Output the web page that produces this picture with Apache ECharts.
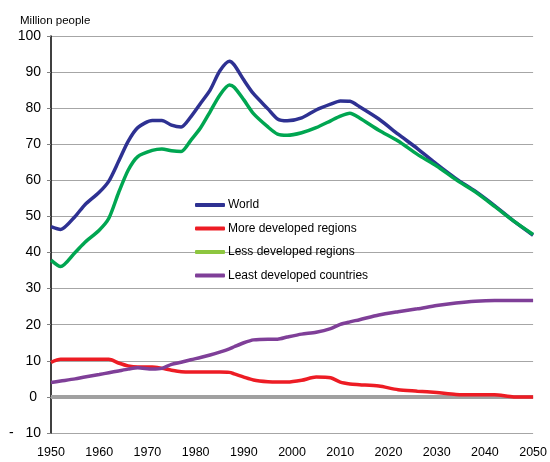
<!DOCTYPE html>
<html>
<head>
<meta charset="utf-8">
<script src="https://cdn.jsdelivr.net/npm/echarts@6/dist/echarts.min.js"></script>
<style>
  html, body { margin: 0; padding: 0; background: #fff; }
  #chart { width: 550px; height: 462px; }
</style>
</head>
<body>
<div id="chart"></div>
<script>
// years shared by all four series
var years = [1950, 1952, 1955, 1957, 1960, 1962, 1964, 1966, 1968, 1971, 1973, 1975, 1977, 1979,
  1981, 1983, 1985, 1987, 1988, 1990, 1992, 1995, 1997, 1999, 2002, 2005, 2008, 2010, 2012, 2014,
  2018, 2022, 2026, 2030, 2034, 2038, 2042, 2046, 2050];

var world = [47.2, 46.4, 50, 53.2, 56.7, 59.8, 65.2, 70.8, 74.6, 76.6, 76.6, 75.3, 74.8, 77.6,
  81.3, 85, 90.3, 93, 92, 87.8, 84, 79.8, 77, 76.5, 77.3, 79.5, 81.1, 82, 81.9, 80.4,
  77, 72.8, 68.8, 64.5, 60.5, 57, 53, 48.7, 44.8];

var moreDeveloped = [9.6, 10.4, 10.4, 10.4, 10.4, 10.4, 9.4, 8.6, 8.3, 8.3, 7.9, 7.4, 7, 6.9,
  6.9, 6.9, 6.9, 6.8, 6.4, 5.5, 4.7, 4.2, 4.1, 4.1, 4.6, 5.5, 5.3, 4.1, 3.6, 3.4,
  3, 2, 1.6, 1.2, 0.7, 0.6, 0.6, 0, 0];

var lessDeveloped = [37.9, 36.1, 40, 42.8, 46.2, 49.5, 56.5, 62.8, 66.6, 68.3, 68.7, 68.2, 68, 71.1,
  74.5, 79, 83.6, 86.4, 85.8, 82.3, 78.5, 74.8, 72.8, 72.5, 73.2, 74.6, 76.5, 77.8, 78.6, 77.3,
  73.9, 70.9, 67.2, 64, 60.2, 56.8, 52.8, 48.7, 45];

var leastDeveloped = [4, 4.4, 5, 5.5, 6.2, 6.7, 7.2, 7.7, 8.1, 7.7, 7.9, 9, 9.6, 10.3,
  10.9, 11.6, 12.4, 13.3, 13.9, 15, 15.8, 16, 16, 16.6, 17.4, 17.9, 18.9, 20.1, 20.8, 21.4,
  22.7, 23.6, 24.4, 25.3, 26, 26.5, 26.7, 26.7, 26.7];

var seriesNames = ['World', 'More developed regions', 'Less developed regions', 'Least developed countries'];
var seriesColors = ['#2e3192', '#ed1c24', '#00a651', '#7f3f98'];
var legendColors = ['#2e3192', '#ed1c24', '#8dc63f', '#7f3f98'];

function pairs(vals) {
  return years.map(function (y, i) { return [y, vals[i]]; });
}

var chart = echarts.init(document.getElementById('chart'));

var allValues = [world, moreDeveloped, lessDeveloped, leastDeveloped];

var series = allValues.map(function (vals, i) {
  var s = {
    name: seriesNames[i],
    type: 'line',
    data: pairs(vals),
    symbol: 'none',
    smooth: 0.25,
    lineStyle: { color: seriesColors[i], width: 3.5 },
    itemStyle: { color: seriesColors[i] },
    z: 3
  };
  if (i === 0) {
    // grey zero line
    s.markLine = {
      silent: true,
      symbol: 'none',
      label: { show: false },
      lineStyle: { color: '#a0a0a0', width: 4, type: 'solid' },
      data: [{ yAxis: 0 }],
      z: 2
    };
  }
  return s;
});

var option = {
  animation: false,
  backgroundColor: '#fff',
  textStyle: { fontFamily: '"Liberation Sans", Arial, sans-serif' },
  title: {
    text: 'Million people',
    left: 15,
    top: 10,
    textStyle: { fontSize: 11.5, fontWeight: 'normal', color: '#000', fontFamily: '"Liberation Sans", Arial, sans-serif' }
  },
  legend: {
    orient: 'vertical',
    left: 195,
    top: 198,
    padding: 0,
    icon: 'roundRect',
    itemWidth: 30,
    itemHeight: 4,
    itemGap: 9.5,
    textStyle: { fontSize: 12, color: '#000', padding: [0, 0, 0, -2], lineHeight: 14 },
    data: seriesNames.map(function (n, i) {
      return { name: n, itemStyle: { color: legendColors[i] } };
    })
  },
  grid: { left: 51, right: 13, top: 36, bottom: 29 },
  xAxis: {
    type: 'value',
    min: 1950,
    max: 2050,
    interval: 10,
    axisLine: { show: false },
    axisTick: { show: false },
    splitLine: { show: false },
    axisLabel: {
      color: '#000',
      fontSize: 12.5,
      margin: 13,
      formatter: function (v) { return String(v); }
    }
  },
  yAxis: {
    type: 'value',
    min: -10,
    max: 100,
    interval: 10,
    axisLine: { show: true, lineStyle: { color: '#000', width: 1.5 } },
    axisTick: { show: true, length: 4, lineStyle: { color: '#808080' } },
    splitLine: { show: true, lineStyle: { color: '#a6a6a6', width: 1 } },
    axisLabel: {
      color: '#000',
      fontSize: 14,
      margin: 10,
      formatter: function (v) {
        if (v === -10) return '-   10';
        if (v === 0) return '0 ';
        return String(v);
      }
    }
  },
  series: series
};

chart.setOption(option);
</script>
</body>
</html>
